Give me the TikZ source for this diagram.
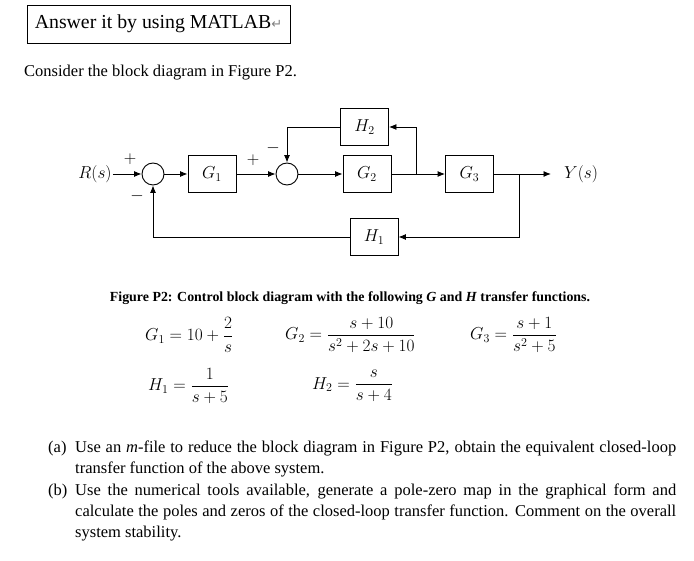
\documentclass[tikz,border=0pt]{standalone}
\usepackage{amsmath}
\usepackage{fontspec}
\setmainfont{Liberation Serif}
\newfontfamily\symfont{DejaVu Sans}
\usetikzlibrary{arrows.meta,calc}

\begin{document}
\begin{tikzpicture}[
  x=1pt,
  y=-1pt,
  >=Latex,
  line/.style={draw=black,line width=0.9pt},
  arrow/.style={line,-{Latex[length=7.5pt,width=6pt]}},
  block/.style={line,minimum width=48pt,minimum height=37pt,inner sep=0pt,font=\fontsize{17}{20}\selectfont},
  sumnode/.style={line,circle,minimum size=22pt,inner sep=0pt},
  sign/.style={font=\fontsize{16}{18}\selectfont,inner sep=0pt},
  body/.style={anchor=base west,inner sep=0pt,font=\fontsize{16.5}{21}\selectfont},
  eqn/.style={anchor=west,inner sep=0pt,font=\fontsize{16.5}{20}\selectfont}
]
\useasboundingbox (0,0) rectangle (694,561);

% Header
\node[line,line width=0.8pt,minimum width=263pt,minimum height=38pt,font=\fontsize{19.8}{22}\selectfont] (task) at (158.5,24)
  {Answer it by using MATLAB{\color{gray}\symfont\fontsize{13}{13}\selectfont ↵}};
\node[body] (intro) at (24,77) {Consider the block diagram in Figure P2.};

% Block diagram
\node[font=\fontsize{17}{20}\selectfont,inner sep=1pt] (R) at (95,174) {$R(s)$};
\node[sumnode] (sum1) at (153,174) {};
\node[block] (G1) at (212,174) {$G_1$};
\node[sumnode] (sum2) at (287,174) {};
\node[block] (H2) at (364.5,127) {$H_2$};
\node[block] (G2) at (367,174) {$G_2$};
\node[block] (G3) at (469.5,174) {$G_3$};
\node[block] (H1) at (374,237) {$H_1$};
\node[font=\fontsize{17}{20}\selectfont,anchor=west,inner sep=0pt] (Y) at (564,174) {$Y(s)$};
\coordinate (b1) at (416,174);
\coordinate (b2) at (519,174);
\coordinate (yend) at (551,174);

\draw[arrow] (R) -- (sum1);
\draw[arrow] (sum1) -- (G1);
\draw[arrow] (G1) -- (sum2);
\draw[arrow] (sum2) -- (G2);
\draw[arrow] (G2) -- (G3);
\draw[arrow] (b1) |- (H2);
\draw[arrow] (H2) -| (sum2);
\draw[arrow] (G3) -- (yend);
\draw[arrow] (b2) |- (H1);
\draw[arrow] (H1) -| (sum1);

% Signs
\node[sign] (p1) at (130,159) {$+$};
\node[sign] (m1) at (137,196) {$-$};
\node[sign] (p2) at (253,160) {$+$};
\node[sign] (m2) at (273,148) {$-$};

% Caption and transfer functions
\node[font=\bfseries\fontsize{13.9}{16}\selectfont,inner sep=0pt] (caption) at (350,298)
  {Figure P2: Control block diagram with the following \textit{G} and \textit{H} transfer functions.};
\node[eqn] (eqG1) at (145,335) {$G_1=10+\dfrac{2}{s}$};
\node[eqn] (eqG2) at (285,335) {$G_2=\dfrac{s+10}{s^2+2s+10}$};
\node[eqn] (eqG3) at (470,335) {$G_3=\dfrac{s+1}{s^2+5}$};
\node[eqn] (eqH1) at (148,386) {$H_1=\dfrac{1}{s+5}$};
\node[eqn] (eqH2) at (312,386) {$H_2=\dfrac{s}{s+4}$};

% Questions
\node[body] (qa) at (48,453) {(a)};
\node[body] (qa1) at (75,453) {\makebox[601pt][s]{Use an \textit{m}-file to reduce the block diagram in Figure P2, obtain the equivalent closed-loop}};
\node[body] (qa2) at (75,474) {transfer function of the above system.};
\node[body] (qb) at (48,495) {(b)};
\node[body] (qb1) at (75,495) {\makebox[601pt][s]{Use the numerical tools available, generate a pole-zero map in the graphical form and}};
\node[body] (qb2) at (75,516) {\makebox[601pt][s]{calculate the poles and zeros of the closed-loop transfer function. Comment on the overall}};
\node[body] (qb3) at (75,537) {system stability.};

\end{tikzpicture}
\end{document}
